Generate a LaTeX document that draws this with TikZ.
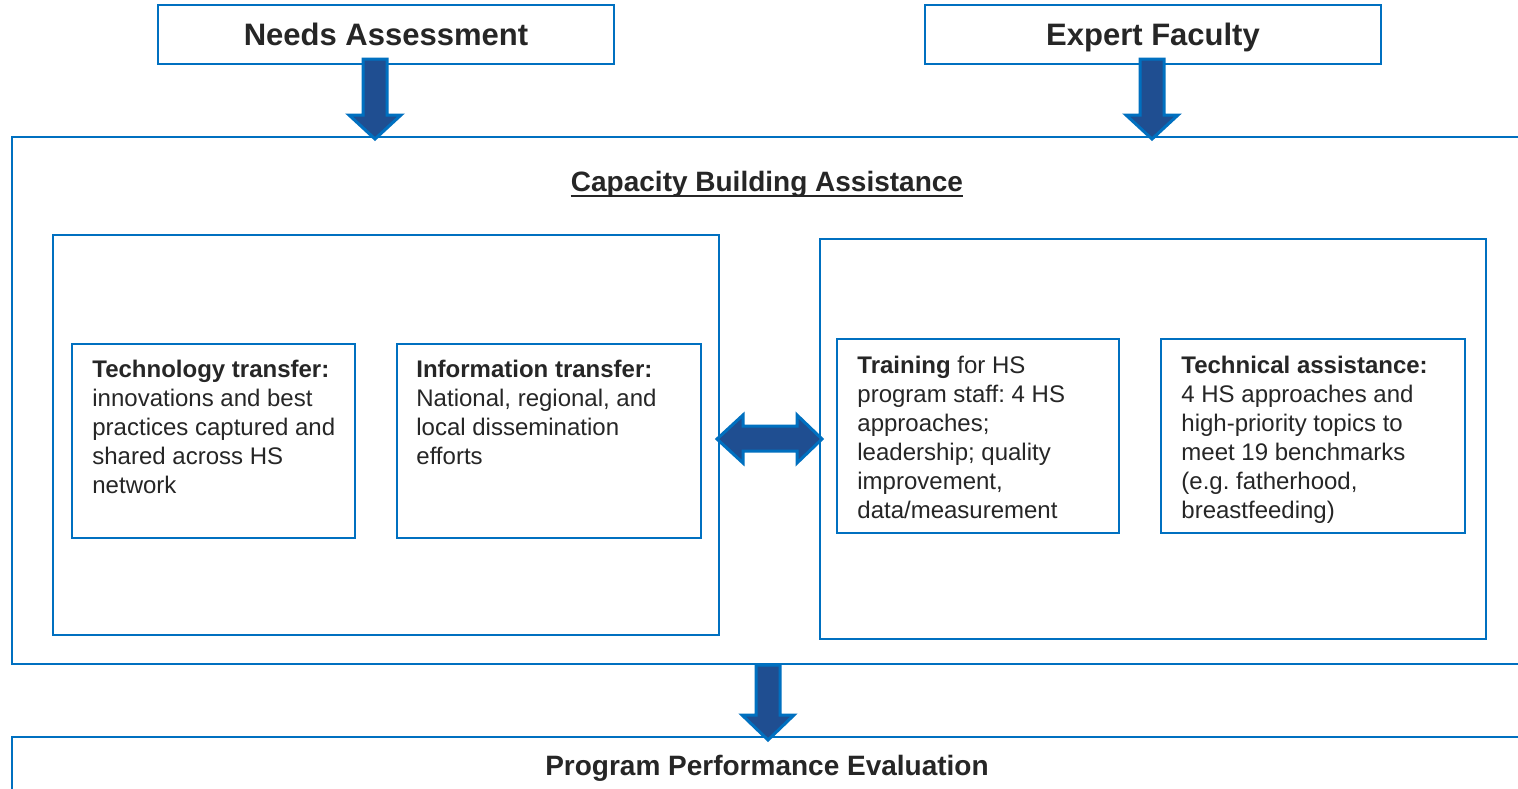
\documentclass[tikz,border=0pt]{standalone}
\usepackage{fontspec}
\setmainfont{Liberation Sans}
\frenchspacing
\definecolor{boxblue}{RGB}{0,112,192}
\definecolor{arrowfill}{RGB}{31,78,145}
\definecolor{txt}{RGB}{38,38,38}
\newcommand\myDownArrow[4]{%
  \draw[barrow] ({#1-12},#2) -- ({#1+12},#2) -- ({#1+12},#3) -- ({#1+26},#3) -- (#1,#4) -- ({#1-26},#3) -- ({#1-12},#3) -- cycle;}
\begin{document}
\frenchspacing
\begin{tikzpicture}[x=0.5pt,y=-0.5pt,
  box/.style={draw=boxblue, line width=1pt, inner sep=0pt, outer sep=0pt, anchor=north west},
  hbox/.style={draw=boxblue, line width=1pt, inner sep=0pt, outer sep=0pt, text=txt,
    text height=12pt, text depth=1.5pt,
    font=\fontsize{15.5}{18}\selectfont\bfseries},
  titletext/.style={inner sep=0pt, text=txt, font=\fontsize{14}{17}\selectfont\bfseries},
  body/.style={inner sep=0pt, anchor=north west, align=left, text=txt,
    font=\fontsize{12}{14.5}\selectfont},
  barrow/.style={fill=arrowfill, draw=boxblue, line width=1.5pt, line join=miter}]
\clip (0,0) rectangle (1518,788);
\fill[white] (0,0) rectangle (1518,788);

% top boxes
\node[hbox, minimum width=228pt, minimum height=29.5pt] (na) at (386,34.5) {Needs Assessment};
\node[hbox, minimum width=228pt, minimum height=29.5pt] (ef) at (1153,34.5) {Expert Faculty};

% outer capacity building box
\node[box, minimum width=764pt, minimum height=263.5pt] (cba) at (12,137) {};
\node[titletext, anchor=base] (cbat) at (767,191) {Capacity Building Assistance};
\draw[txt, line width=1.1pt] ([yshift=-2.4pt]cbat.base west) -- ([yshift=-2.4pt]cbat.base east);

% inner boxes
\node[box, minimum width=333pt, minimum height=200pt] (left) at (53,235) {};
\node[box, minimum width=333pt, minimum height=200pt] (right) at (820,239) {};

\node[box, minimum width=141.5pt, minimum height=97pt] (tt) at (72,344) {};
\node[box, minimum width=152pt, minimum height=97pt] (it) at (397,344) {};
\node[box, minimum width=141pt, minimum height=97pt] (tr) at (837,339) {};
\node[box, minimum width=152pt, minimum height=97pt] (ta) at (1161,339) {};

\node[body] (ttx) at (92,360) {\textbf{Technology transfer:}\\innovations and best\\practices captured and\\shared across HS\\network};
\node[body] (itx) at (416,360) {\textbf{Information transfer:}\\National, regional, and\\local dissemination\\efforts};
\node[body] (trx) at (857,356) {\textbf{Training} for HS\\program staff: 4 HS\\approaches;\\leadership; quality\\improvement,\\data/measurement};
\node[body] (tax) at (1181,356) {\textbf{Technical assistance:}\\4 HS approaches and\\high-priority topics to\\meet 19 benchmarks\\(e.g. fatherhood,\\breastfeeding)};

% bottom box
\node[box, minimum width=770pt, minimum height=40pt] (ppeb) at (12,737) {};
\node[titletext, anchor=base] (ppe) at (767,775) {Program Performance Evaluation};

% arrows
\myDownArrow{375}{59}{115}{139}
\myDownArrow{1152}{59}{115}{139}
\myDownArrow{768}{665}{715}{740}
\draw[barrow] (717,439) -- (743,415) -- (743,426) -- (797,426) -- (797,415) -- (822,439)
  -- (797,463) -- (797,451) -- (743,451) -- (743,463) -- cycle;
\end{tikzpicture}
\end{document}
